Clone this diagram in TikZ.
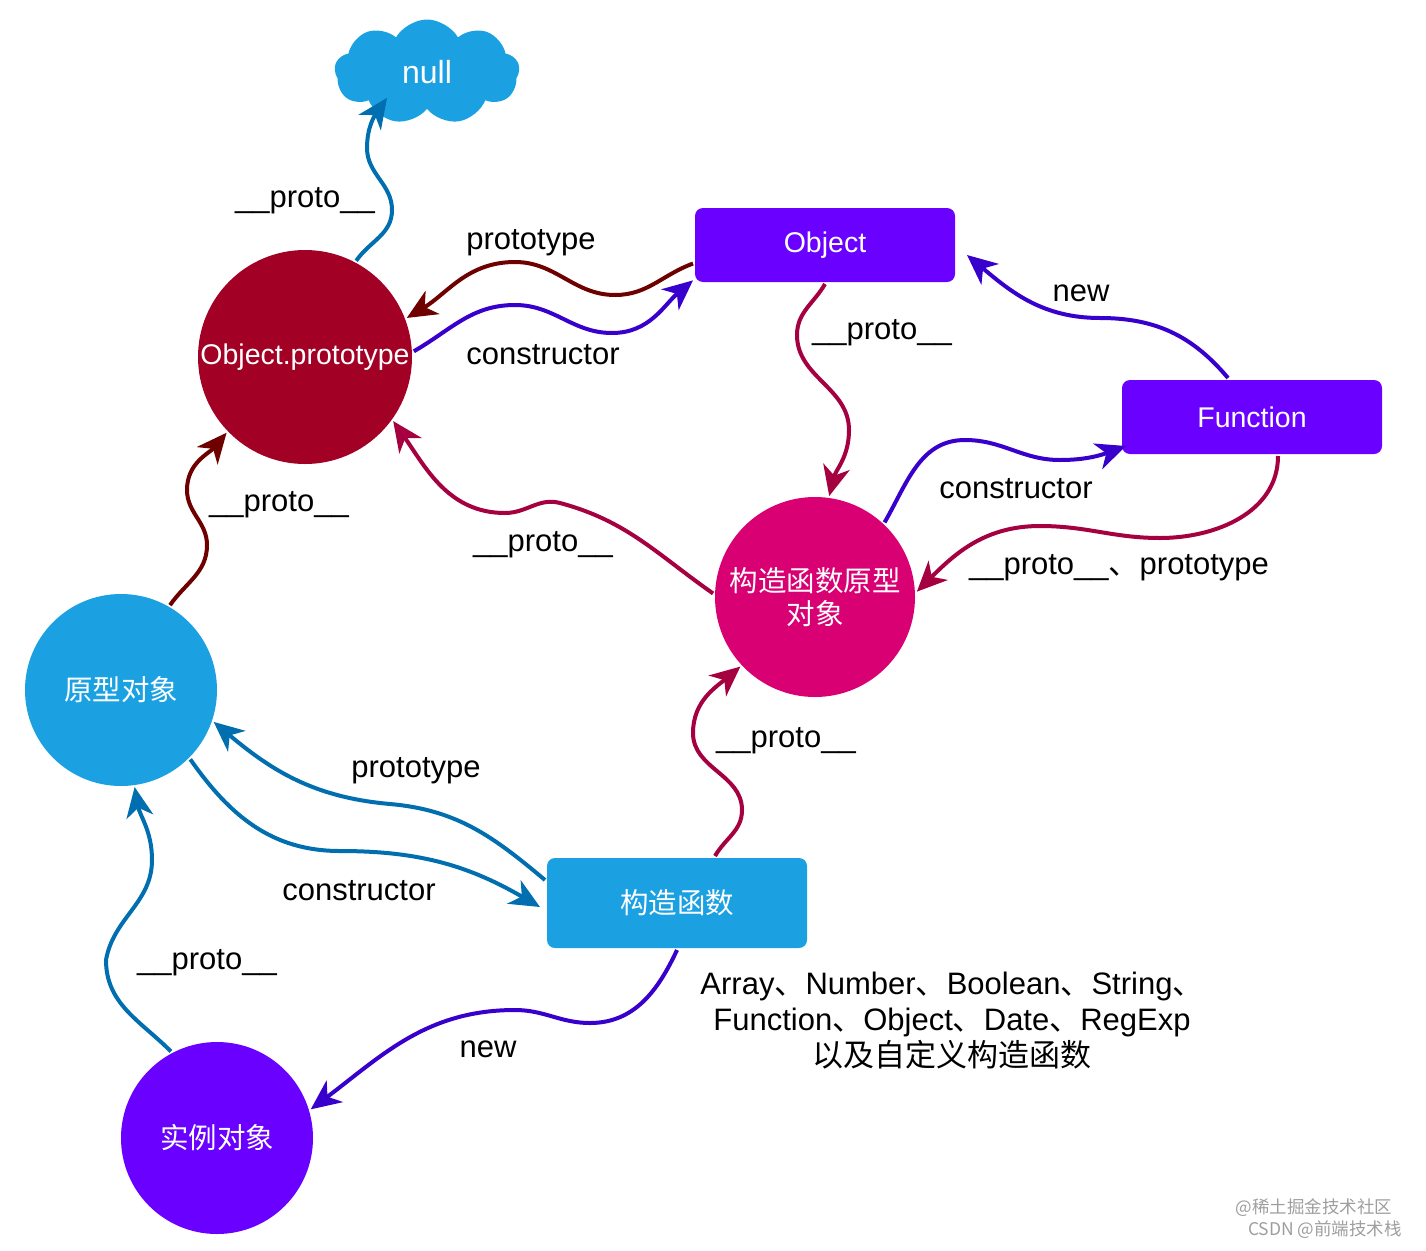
\documentclass[tikz,border=0pt]{standalone}
\usepackage{fontspec}
\setmainfont{Liberation Sans}
\newfontfamily\cjk{Noto Sans CJK SC}
\usetikzlibrary{arrows.meta,shapes.symbols}

\definecolor{skyblue}{HTML}{1BA1E2}
\definecolor{crimson}{HTML}{A20025}
\definecolor{objviolet}{HTML}{6A00FF}
\definecolor{rosered}{HTML}{D80073}
\definecolor{lineblue}{HTML}{006EAF}
\definecolor{linered}{HTML}{6F0000}
\definecolor{lineviolet}{HTML}{3700CC}
\definecolor{linerose}{HTML}{A50040}

\begin{document}
\begin{tikzpicture}[x=1pt,y=-1pt,->,>={Stealth[length=30pt,width=27pt,inset=9pt]},line width=4pt]
    \tikzstyle{every node}=[text=white, font=\fontsize{28.5}{33}\selectfont]
    \tikzstyle{ball}=[circle, inner sep=0pt, align=center]
    \tikzstyle{box}=[rectangle, rounded corners=8pt, inner sep=0pt, minimum width=260pt, minimum height=74pt]
    \tikzstyle{zh}=[font=\cjk\fontsize{28.5}{33}\selectfont]
    \tikzstyle{lbl}=[text=black, font=\fontsize{31}{36}\selectfont, yshift=-3pt]
    \tikzstyle{wm}=[text=black!38, font=\cjk\fontsize{17.5}{20}\selectfont]

    \useasboundingbox (0,0) rectangle (1426,1250);

    \node[cloud, fill=skyblue, cloud puffs=9, cloud puff arc=120, aspect=1.8,
          minimum width=185pt, minimum height=105pt, inner sep=0pt,
          font=\fontsize{32}{36}\selectfont] (null) at (427,72) {null};
    \node[ball, fill=crimson, minimum size=214pt] (op) at (305,357) {Object.prototype};
    \node[box, fill=objviolet] (obj) at (825,245) {Object};
    \node[box, fill=objviolet] (fn) at (1252,417) {Function};
    \node[ball, zh, fill=rosered, minimum size=200pt] (cp) at (815,597) {构造函数原型\\对象};
    \node[ball, zh, fill=skyblue, minimum size=192pt] (po) at (121,690) {原型对象};
    \node[box, zh, fill=skyblue, minimum height=90pt] (ctor) at (677,903) {构造函数};
    \node[ball, zh, fill=objviolet, minimum size=192pt] (inst) at (217,1138) {实例对象};

    % labels
    \node[lbl] (lnull) at (305,198) {\_\_proto\_\_};
    \node[lbl] (lprot) at (531,240) {prototype};
    \node[lbl] (lcons) at (543,352) {constructor};
    \node[lbl] (lobj) at (882,330) {\_\_proto\_\_};
    \node[lbl] (lnew) at (1081,290) {new};
    \node[lbl] (lfcons) at (1016,486) {constructor};
    \node[lbl] (lfn) at (1119,565) {\_\_proto\_\_{\cjk 、}prototype};
    \node[lbl] (lcp) at (543,542) {\_\_proto\_\_};
    \node[lbl] (lpo) at (279,502) {\_\_proto\_\_};
    \node[lbl] (lctor) at (786,738) {\_\_proto\_\_};
    \node[lbl] (lpprot) at (416,768) {prototype};
    \node[lbl] (lpcons) at (359,888) {constructor};
    \node[lbl] (linst) at (207,960) {\_\_proto\_\_};
    \node[lbl] (linew) at (488,1046) {new};
    \node[lbl, align=center] (types) at (952,1018)
        {Array{\cjk 、}Number{\cjk 、}Boolean{\cjk 、}String{\cjk 、}\\
         Function{\cjk 、}Object{\cjk 、}Date{\cjk 、}RegExp\\
         {\cjk 以及自定义构造函数}};

    % watermark
    \node[wm] (wma) at (1314,1208) {@稀土掘金技术社区};
    \node[wm] (wmb) at (1325,1230) {CSDN @前端技术栈};

    % connectors
    \draw[lineblue] (op.62) to[out=55,in=-90] (392,210) to[out=90,in=-90] (367,148)
        to[out=90,in=235] ([xshift=-40pt,yshift=14pt]null.south);
    \draw[linered] (obj.188) to[out=200,in=0] (615,295) to[out=180,in=0] (515,262)
        to[out=180,in=31] (op.21);
    \draw[lineviolet] (op.3) to[out=30,in=180] (515,305) to[out=0,in=180] (612,333)
        to[out=0,in=220] (obj.195);
    \draw[linerose] (obj.south) to[out=240,in=90] (797,335) to[out=270,in=90] (849,430)
        to[out=270,in=76] (cp.82);
    \draw[lineviolet] ([xshift=-24pt]fn.north) to[out=130,in=0] (1100,318)
        to[out=180,in=-40] ([xshift=10pt,yshift=-10pt]obj.east);
    \draw[lineviolet] (cp.47) to[out=60,in=180] (965,440) to[out=0,in=180] (1060,460)
        to[out=0,in=200] ([xshift=6pt,yshift=10pt]fn.south west);
    \draw[linerose] ([xshift=26pt]fn.south) to[out=-90,in=0] (1160,538)
        to[out=180,in=0] (1040,526) to[out=180,in=45] (cp.3);
    \draw[linerose] (cp.178) to[out=145,in=-15] (560,503) to[out=165,in=0] (505,513)
        to[out=180,in=-55] (op.-36);
    \draw[linered] (po.60) to[out=55,in=-90] (207,545) to[out=90,in=-90] (187,490)
        to[out=90,in=230] (op.224);
    \draw[linerose] ([xshift=38pt]ctor.north) to[out=60,in=-90] (742,810)
        to[out=90,in=-90] (693,733) to[out=90,in=220] (cp.223);
    \draw[lineblue] ([yshift=23pt]ctor.west) to[out=140,in=-5] (390,804)
        to[out=175,in=-40] (po.-19);
    \draw[lineblue] (po.-45) to[out=-55,in=180] (340,851)
        to[out=0,in=150] ([xshift=-5pt,yshift=-4pt]ctor.west);
    \draw[lineblue] (inst.118) to[out=135,in=-90] (106,960) to[out=80,in=-90] (152,860)
        to[out=90,in=-80] (po.-82);
    \draw[lineviolet] (ctor.south) to[out=-115,in=0] (590,1023) to[out=180,in=0] (515,1010)
        to[out=180,in=37] (inst.17);
\end{tikzpicture}
\end{document}
